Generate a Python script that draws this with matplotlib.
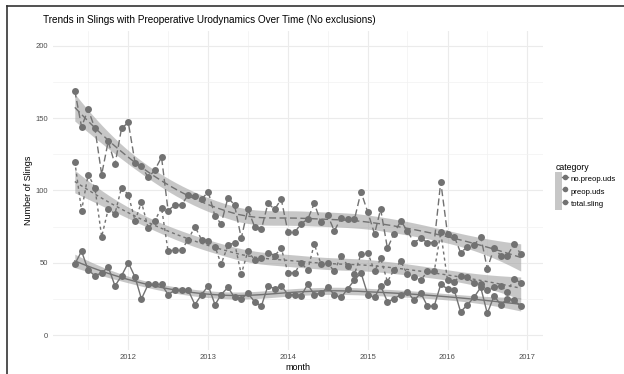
import numpy as np
import pandas as pd
import matplotlib
matplotlib.use("Agg")
import matplotlib.pyplot as plt
import matplotlib.dates as mdates
from matplotlib.lines import Line2D
from matplotlib.patches import Patch
from matplotlib.legend_handler import HandlerTuple

plt.rcParams["font.family"] = ["Liberation Sans", "DejaVu Sans"]

# monthly sling counts, May 2011 - Dec 2016
months = pd.date_range("2011-05-01", "2016-12-01", freq="MS")

no_preop_uds = [49, 58, 45, 41, 43, 47, 34, 41, 50, 40, 25, 35, 35, 35, 28, 31, 31, 31, 21, 28, 34, 21,
                28, 33, 26, 25, 29, 23, 20, 34, 32, 34, 28, 28, 27, 35, 28, 29, 33, 28, 26, 32, 38, 43,
                28, 26, 34, 23, 25, 28, 30, 24, 29, 20, 20, 35, 32, 31, 16, 21, 26, 33, 15, 27, 21, 25, 24, 20]
preop_uds = [120, 86, 111, 102, 68, 87, 84, 102, 97, 79, 92, 74, 79, 88, 58, 59, 59, 66, 75, 66, 65, 61,
             49, 62, 64, 42, 58, 52, 53, 57, 55, 60, 43, 43, 50, 45, 63, 49, 50, 44, 55, 48, 42, 56,
             57, 44, 53, 37, 45, 51, 42, 40, 38, 44, 44, 71, 38, 37, 41, 40, 36, 35, 31, 33, 34, 30, 39, 36]
total_sling = [169, 144, 156, 143, 111, 134, 118, 143, 147, 119, 117, 109, 114, 123, 86, 90, 90, 97, 96, 94, 99, 82,
               77, 95, 90, 67, 87, 75, 73, 91, 87, 94, 71, 71, 77, 80, 91, 78, 83, 72, 81, 80, 80, 99,
               85, 70, 87, 60, 70, 79, 72, 64, 67, 64, 64, 106, 70, 68, 57, 61, 62, 68, 46, 60, 55, 55, 63, 56]

categories = ["no.preop.uds", "preop.uds", "total.sling"]
series = [no_preop_uds, preop_uds, total_sling]
dash_styles = ["-", (0, (2.2, 2.2)), (0, (5, 2.5))]

GREY = "#727272"
RIBBON = "#a0a0a0"
RIBBON_ALPHA = 0.58


def loess(x, y, x_new, span=0.75):
    """Local quadratic fit with tricube weights, plus standard errors."""
    n = len(x)
    q = int(np.floor(n * span))

    def hat_row(x0):
        d = np.abs(x - x0)
        h = np.sort(d)[q - 1]
        w = (1 - np.clip(d / h, 0, 1) ** 3) ** 3
        X = np.column_stack([np.ones(n), x - x0, (x - x0) ** 2])
        XW = X * w[:, None]
        return np.linalg.solve(X.T @ XW, XW.T)[0]

    L = np.array([hat_row(v) for v in x])
    resid = y - L @ y
    dof = n - 2 * np.trace(L) + np.sum(L * L)
    sigma = np.sqrt(np.sum(resid ** 2) / dof)
    rows = np.array([hat_row(v) for v in x_new])
    return rows @ y, sigma * np.sqrt(np.sum(rows ** 2, axis=1))


W, H = 624, 374
fig = plt.figure(figsize=(W / 100, H / 100), dpi=100)

left, right, top, bottom = 52.5, 543, 31.4, 349.5
ax = fig.add_axes([left / W, 1 - bottom / H, (right - left) / W, (bottom - top) / H])

xnum = mdates.date2num(months)
xyr = (xnum - xnum[0]) / 365.25
grid_x = np.linspace(xyr[0], xyr[-1], 80)
grid_dates = xnum[0] + grid_x * 365.25

for vals, ls in zip(series, dash_styles):
    y = np.asarray(vals, dtype=float)
    fit, se = loess(xyr, y, grid_x)
    ax.fill_between(grid_dates, fit - 1.97 * se, fit + 1.97 * se, color=RIBBON, alpha=RIBBON_ALPHA,
                    lw=0, zorder=2)
    ax.plot(grid_dates, fit, color=GREY, lw=1.0, linestyle=ls, zorder=3)
    ax.plot(xnum, y, color=GREY, lw=1.0, linestyle=ls, zorder=4)
    ax.plot(xnum, y, "o", color=GREY, ms=5, mec="none", zorder=5)

# ggplot-like 5% expansion on both axes
span = xnum[-1] - xnum[0]
ax.set_xlim(xnum[0] - 0.05 * span, xnum[-1] + 0.05 * span)
ax.set_ylim(-10, 210)

ax.xaxis.set_major_locator(mdates.YearLocator())
ax.xaxis.set_major_formatter(mdates.DateFormatter("%Y"))
ax.xaxis.set_minor_locator(mdates.MonthLocator(bymonth=7))
ax.set_yticks([0, 50, 100, 150, 200])
ax.set_yticks([25, 75, 125, 175], minor=True)

ax.grid(True, which="major", color="#ebebeb", lw=0.8)
ax.grid(True, which="minor", color="#f2f2f2", lw=0.5)
ax.set_axisbelow(True)
for s in ax.spines.values():
    s.set_visible(False)
ax.tick_params(which="both", length=0, labelsize=5.5, labelcolor="#4d4d4d", pad=3)

ax.set_xlabel("month", fontsize=6.5, labelpad=2)
ax.set_ylabel("Number of Slings", fontsize=6.5, labelpad=2)
fig.text(43 / W, 1 - 20 / H, "Trends in Slings with Preoperative Urodynamics Over Time (No exclusions)",
         fontsize=7.2, va="center", ha="left")

handles = [(Patch(facecolor=RIBBON, alpha=RIBBON_ALPHA, lw=0),
            Line2D([], [], color=GREY, lw=1.0, linestyle=ls, marker="o", ms=4, mec="none"))
           for ls in dash_styles]
fig.legend(handles, categories, title="category", handler_map={tuple: HandlerTuple(ndivide=None, pad=0)},
           loc="upper left", bbox_to_anchor=(550 / W, 1 - 158 / H), frameon=False, fontsize=5.6,
           title_fontsize=6.3, handlelength=1.6, handleheight=2.1, labelspacing=0, handletextpad=0.4,
           borderpad=0.2, alignment="left")

# dark edge along the left and top of the figure
fig.add_artist(Line2D([7 / W, 7 / W], [0, 1 - 6 / H], transform=fig.transFigure, color="#333333", lw=1.2))
fig.add_artist(Line2D([7 / W, 1], [1 - 6 / H, 1 - 6 / H], transform=fig.transFigure, color="#333333", lw=1.2))

fig.savefig("out.png", dpi=100)
